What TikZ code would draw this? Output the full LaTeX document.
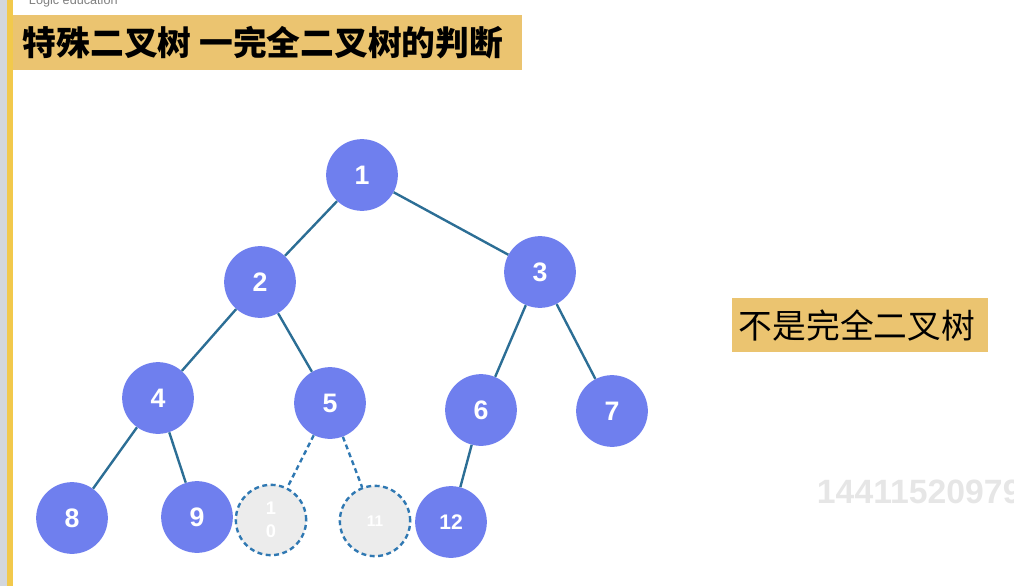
\documentclass[tikz,border=0pt]{standalone}
\usepackage{fontspec}
\setmainfont{Liberation Sans}
\newfontfamily\cjk{Noto Sans CJK SC}

\definecolor{nodeblue}{HTML}{6F7FEE}
\definecolor{edgeblue}{HTML}{2C6E95}
\definecolor{dashblue}{HTML}{2F78B2}
\definecolor{titletan}{HTML}{EBC470}
\definecolor{baryellow}{HTML}{F2C94C}
\definecolor{bargray}{HTML}{D3D7DD}
\definecolor{ghostgray}{HTML}{ECECEC}
\definecolor{markgray}{HTML}{E6E6E6}

\tikzset{
  treenode/.style={circle, fill=nodeblue, minimum size=51pt, inner sep=0pt,
    text=white, font=\bfseries\fontsize{19}{19}\selectfont},
  ghostnode/.style={circle, fill=ghostgray, draw=dashblue, line width=1.7pt,
    dash pattern=on 3.5pt off 2.5pt, minimum size=50pt, inner sep=0pt, text=white},
  edge/.style={draw=edgeblue, line width=1.7pt},
  ghostedge/.style={draw=dashblue, line width=1.7pt, dash pattern=on 3.5pt off 2.5pt}
}

\begin{document}
\begin{tikzpicture}[x=0.025cm, y=-0.025cm]

\useasboundingbox (0,0) rectangle (1014,586);

% left bar and headings
\fill[bargray] (0,0) rectangle (7,586);
\fill[baryellow] (7,0) rectangle (13,586);
\node[anchor=west, text=gray, font=\fontsize{9}{9}\selectfont] (logo) at (24,1) {Logic education};
\fill[titletan] (13,15) rectangle (522,70);
\node[anchor=west, font=\cjk\bfseries\fontsize{24}{24}\selectfont] (title) at (18,43) {特殊二叉树 一完全二叉树的判断};
\fill[titletan] (732,298) rectangle (988,352);
\node[anchor=west, font=\cjk\fontsize{24}{24}\selectfont] (verdict) at (734,326) {不是完全二叉树};
\node[anchor=west, text=markgray, font=\bfseries\fontsize{24}{24}\selectfont] (mark) at (812,492) {14411520979};

% tree
\node[treenode] (n1) at (362,175) {1};
\node[treenode] (n2) at (260,282) {2};
\node[treenode] (n3) at (540,272) {3};
\node[treenode] (n4) at (158,398) {4};
\node[treenode] (n5) at (330,403) {5};
\node[treenode] (n6) at (481,410) {6};
\node[treenode] (n7) at (612,411) {7};
\node[treenode] (n8) at (72,518) {8};
\node[treenode] (n9) at (197,517) {9};
\node[treenode, font=\bfseries\fontsize{15}{15}\selectfont] (n12) at (451,522) {12};
\node[ghostnode, align=center, font=\bfseries\fontsize{13}{16}\selectfont] (n10) at (271,520) {1\\0};
\node[ghostnode, font=\bfseries\fontsize{11}{11}\selectfont] (n11) at (375,521) {11};

\draw[edge] (n1) -- (n2);
\draw[edge] (n1) -- (n3);
\draw[edge] (n2) -- (n4);
\draw[edge] (n2) -- (n5);
\draw[edge] (n3) -- (n6);
\draw[edge] (n3) -- (n7);
\draw[edge] (n4) -- (n8);
\draw[edge] (n4) -- (n9);
\draw[edge] (n6) -- (n12);
\draw[ghostedge] (n5) -- (n10);
\draw[ghostedge] (n5) -- (n11);

\end{tikzpicture}
\end{document}
